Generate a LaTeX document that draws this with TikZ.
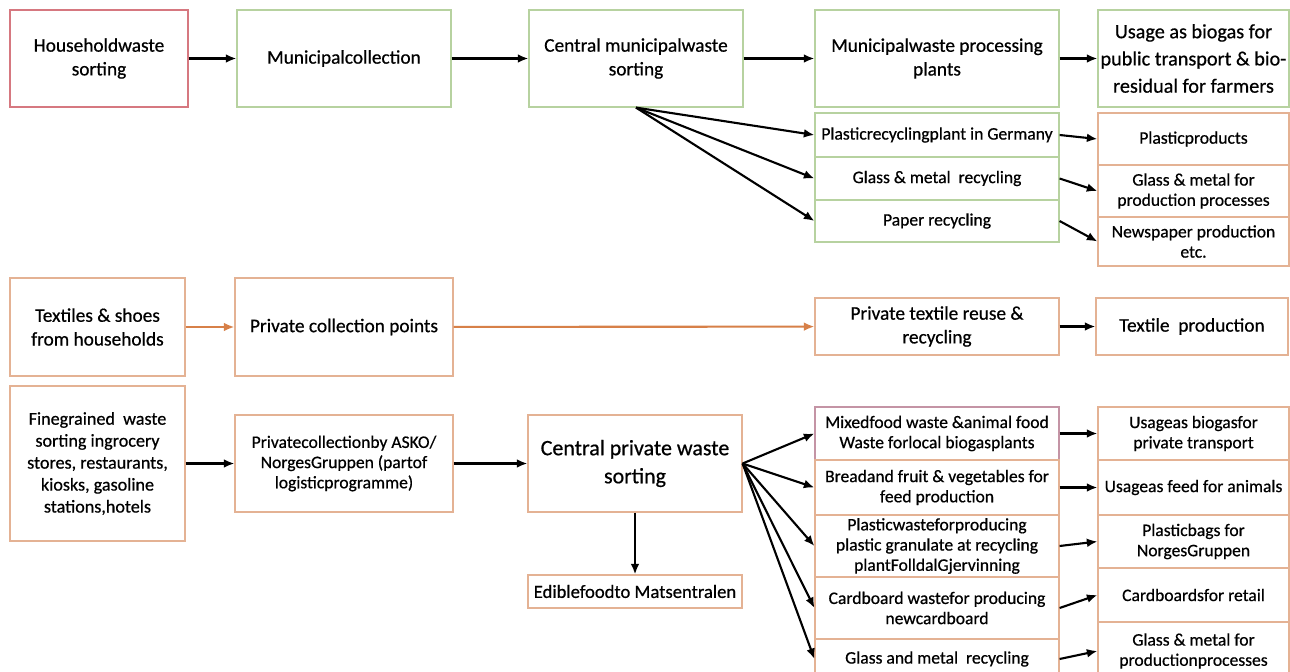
\documentclass[tikz,border=0pt]{standalone}
\usepackage{fontspec}
\setmainfont{Carlito}[FakeBold=0.6]
\usetikzlibrary{arrows.meta}
\definecolor{redline}{RGB}{214,120,128}
\definecolor{greenline}{RGB}{183,210,160}
\definecolor{orangeline}{RGB}{228,178,148}
\definecolor{orangearrow}{RGB}{215,128,72}
\definecolor{mauveline}{RGB}{196,148,165}
\tikzset{
  wbox/.style={draw, line width=0.7pt, fill=white, align=center, inner sep=1pt},
  gbox/.style={wbox, draw=greenline},
  obox/.style={wbox, draw=orangeline},
  mainfont/.style={font=\fontsize{11}{13.5}\selectfont},
  subfont/.style={font=\fontsize{10}{11.5}\selectfont},
  flow/.style={line width=1.2pt, -{Latex[length=6pt,width=5pt]}},
  oflow/.style={flow, draw=orangearrow, -{Latex[length=6pt,width=5pt,color=orangearrow]}}
}

\begin{document}
\begin{tikzpicture}[x=0.02cm, y=-0.02cm]
			%%%%% FRAME %%%%%
			\clip (0, 0) rectangle (1290, 672);
			\fill[white] (0, 0) rectangle (1290, 672);
			
			%%%%% MUNICIPAL CHAIN %%%%%
			\node[wbox, draw=redline, mainfont, minimum width=3.56cm, minimum height=1.94cm] (hw) at (99, 58.5) {Householdwaste\\sorting};
			\node[gbox, mainfont, minimum width=4.28cm, minimum height=1.94cm] (mc) at (344, 58.5) {Municipalcollection};
			\node[gbox, mainfont, minimum width=4.28cm, minimum height=1.94cm] (cmws) at (636, 58.5) {Central municipalwaste\\sorting};
			\node[gbox, mainfont, minimum width=4.88cm, minimum height=1.94cm] (mwpp) at (937, 58.5) {Municipalwaste processing\\plants};
			\node[gbox, minimum width=3.82cm, minimum height=1.94cm, font=\fontsize{11.5}{15.5}\selectfont] (ubg) at (1193.5, 58.5) {Usage as biogas for\\public transport \& bio-\\residual for farmers};
			
			\node[gbox, subfont, minimum width=4.88cm, minimum height=0.88cm] (prg) at (937, 135) {Plasticrecyclingplant in Germany};
			\node[gbox, subfont, minimum width=4.88cm, minimum height=0.86cm] (gmr) at (937, 178.5) {Glass \& metal~ recycling};
			\node[gbox, subfont, minimum width=4.88cm, minimum height=0.84cm] (papr) at (937, 221) {Paper recycling};
			
			\node[obox, subfont, minimum width=3.82cm, minimum height=1.04cm] (pprod) at (1193.5, 139) {Plasticproducts};
			\node[obox, subfont, minimum width=3.82cm, minimum height=1.04cm] (gmp) at (1193.5, 191) {Glass \& metal for\\production processes};
			\node[obox, subfont, minimum width=3.82cm, minimum height=0.98cm] (news) at (1193.5, 241.5) {Newspaper production\\etc.};
			
			\draw[flow] (hw) -- (mc);
			\draw[flow] (mc) -- (cmws);
			\draw[flow] (cmws) -- (mwpp);
			\draw[flow] (mwpp) -- (ubg);
			\draw[flow] (cmws.south) -- (prg.west);
			\draw[flow] (cmws.south) -- (gmr.west);
			\draw[flow] (cmws.south) -- (papr.west);
			\draw[flow] (prg.east) -- (pprod.west);
			\draw[flow] (gmr.east) -- (gmp.west);
			\draw[flow] (papr.east) -- (news.west);
			
			%%%%% TEXTILES %%%%%
			\node[obox, mainfont, minimum width=3.5cm, minimum height=1.96cm] (tex) at (97.5, 327) {Textiles \& shoes\\from households};
			\node[obox, mainfont, minimum width=4.36cm, minimum height=1.96cm] (pcp) at (344, 327) {Private collection points};
			\node[obox, mainfont, minimum width=4.88cm, minimum height=1.14cm] (ptr) at (937, 326.5) {Private textile reuse \&\\recycling};
			\node[obox, mainfont, minimum width=3.84cm, minimum height=1.14cm] (tprod) at (1192, 326.5) {Textile~ production};
			
			\draw[oflow] (tex) -- (pcp);
			\draw[oflow] (pcp) -- (ptr);
			\draw[flow] (ptr) -- (tprod);
			
			%%%%% PRIVATE CHAIN %%%%%
			\node[obox, minimum width=3.5cm, minimum height=3.1cm, font=\fontsize{10.3}{12.5}\selectfont] (fine) at (97.5, 463.5) {Finegrained~ waste\\sorting ingrocery\\stores, restaurants,\\kiosks, gasoline\\stations,hotels};
			\node[obox, subfont, minimum width=4.36cm, minimum height=1.94cm] (asko) at (344, 463.5) {Privatecollectionby ASKO/\\NorgesGruppen (partof\\logisticprogramme)};
			\node[obox, font=\fontsize{12.5}{16}\selectfont, minimum width=4.28cm, minimum height=1.94cm] (cpws) at (635, 463.5) {Central private waste\\sorting};
			\node[obox, font=\fontsize{10.6}{12}\selectfont, minimum width=4.28cm, minimum height=0.66cm] (edible) at (635, 591.5) {Ediblefoodto Matsentralen};
			
			\node[wbox, draw=mauveline, subfont, minimum width=4.88cm, minimum height=1.06cm] (mfw) at (937, 433.5) {Mixedfood waste \&animal food\\Waste forlocal biogasplants};
			\node[obox, subfont, minimum width=4.88cm, minimum height=1.1cm] (bread) at (937, 487.5) {Breadand fruit \& vegetables for\\feed production};
			\node[obox, subfont, minimum width=4.88cm, minimum height=1.24cm] (plw) at (937, 546) {Plasticwasteforproducing\\plastic granulate at recycling\\plantFolldalGjervinning};
			\node[obox, subfont, minimum width=4.88cm, minimum height=1.24cm] (card) at (937, 608) {Cardboard wastefor producing\\newcardboard};
			\node[obox, subfont, minimum width=4.88cm, minimum height=0.8cm] (gmr2) at (937, 659) {Glass and metal~ recycling};
			
			\node[obox, subfont, minimum width=3.82cm, minimum height=1.06cm] (ubp) at (1193.5, 433.5) {Usageas biogasfor\\private transport};
			\node[obox, subfont, minimum width=3.82cm, minimum height=1.1cm] (ufa) at (1193.5, 487.5) {Usageas feed for animals};
			\node[obox, subfont, minimum width=3.82cm, minimum height=1.06cm] (pbag) at (1193.5, 541.5) {Plasticbags for\\NorgesGruppen};
			\node[obox, subfont, minimum width=3.82cm, minimum height=1.08cm] (cret) at (1193.5, 595) {Cardboardsfor retail};
			\node[obox, subfont, minimum width=3.82cm, minimum height=1.16cm] (gmp2) at (1193.5, 651) {Glass \& metal for\\productionprocesses};
			
			\draw[flow] (fine) -- (asko);
			\draw[flow] (asko) -- (cpws);
			\draw[flow] (cpws) -- (edible);
			\draw[flow] (cpws.east) -- (mfw.west);
			\draw[flow] (cpws.east) -- (bread.west);
			\draw[flow] (cpws.east) -- (plw.west);
			\draw[flow] (cpws.east) -- (card.west);
			\draw[flow] (cpws.east) -- (gmr2.west);
			\draw[flow] (mfw.east) -- (ubp.west);
			\draw[flow] (bread.east) -- (ufa.west);
			\draw[flow] (plw.east) -- (pbag.west);
			\draw[flow] (card.east) -- (cret.west);
			\draw[flow] (gmr2.east) -- (gmp2.west);
			
			%%%%% END %%%%%
		\end{tikzpicture}
\end{document}
